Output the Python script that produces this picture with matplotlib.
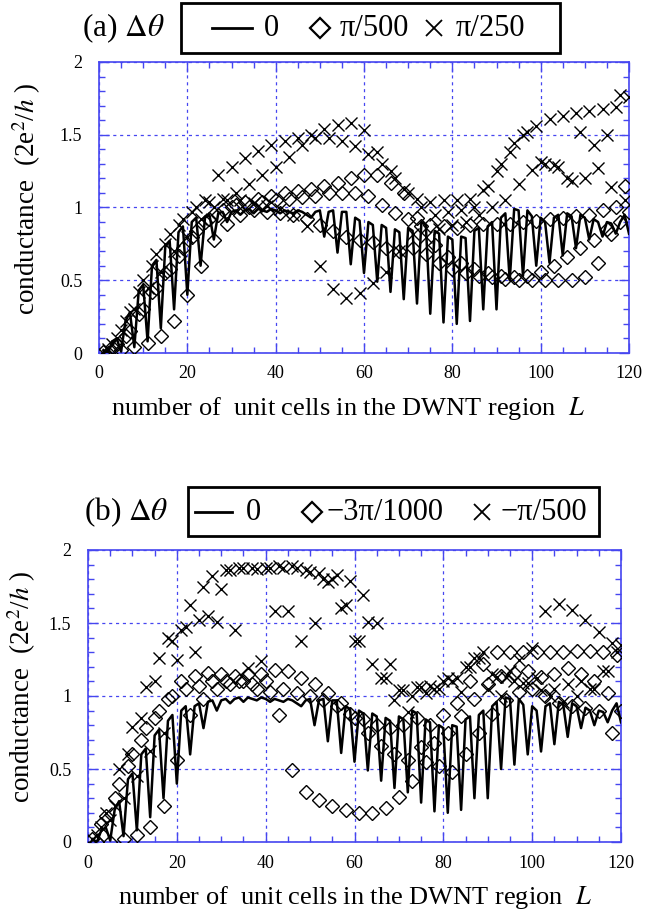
import matplotlib
matplotlib.use("Agg")
import matplotlib.pyplot as plt
from matplotlib.lines import Line2D
from matplotlib.patches import Rectangle
from matplotlib.ticker import MultipleLocator, FuncFormatter

# number of unit cells L
cells = list(range(1, 121))

# conductance for dtheta = 0 (same curve in both panels)
g_zero = [0.02, 0.0, 0.08, 0.1, 0.01, 0.22, 0.28, 0.04, 0.43, 0.47,
          0.08, 0.6, 0.64, 0.17, 0.73, 0.77, 0.3, 0.83, 0.87, 0.4,
          0.9, 0.93, 0.6, 0.93, 0.95, 0.78, 0.96, 0.97, 0.9, 0.97,
          0.98, 0.95, 0.98, 0.99, 0.96, 0.99, 0.98, 0.97, 0.99, 0.98,
          0.96, 0.98, 0.97, 0.96, 0.98, 0.97, 0.95, 0.93, 0.97, 0.98,
          0.8, 0.97, 0.98, 0.69, 0.97, 0.97, 0.61, 0.93, 0.91, 0.55,
          0.9, 0.88, 0.49, 0.88, 0.86, 0.42, 0.85, 0.83, 0.37, 0.86,
          0.84, 0.34, 0.9, 0.88, 0.27, 0.84, 0.82, 0.21, 0.8, 0.78,
          0.2, 0.8, 0.79, 0.22, 0.84, 0.86, 0.3, 0.87, 0.9, 0.3,
          0.93, 0.96, 0.5, 0.99, 0.98, 0.53, 0.98, 0.94, 0.6, 0.93,
          0.9, 0.62, 0.93, 0.95, 0.67, 0.96, 0.94, 0.72, 0.95, 0.93,
          0.78, 0.92, 0.9, 0.8, 0.9, 0.89, 0.82, 0.9, 0.95, 0.82]

# panel (a): dtheta = pi/500 (diamonds), pi/250 (crosses)
g_a_pi500 = [0.01, 0.0, 0.04, 0.06, 0.02, 0.12, 0.15, 0.04, 0.27, 0.3,
             0.07, 0.42, 0.45, 0.12, 0.55, 0.58, 0.22, 0.67, 0.72, 0.4,
             0.8, 0.84, 0.6, 0.9, 0.92, 0.78, 0.95, 0.98, 0.89, 1.0,
             1.02, 0.95, 1.04, 1.0, 0.98, 1.06, 1.04, 0.97, 1.08, 1.05,
             0.96, 1.1, 1.06, 0.95, 1.11, 1.07, 0.92, 1.13, 1.08, 0.88,
             1.15, 1.1, 0.84, 1.17, 1.1, 0.8, 1.2, 1.1, 0.78, 1.22,
             1.08, 0.76, 1.22, 1.02, 0.72, 1.17, 0.96, 0.7, 1.1, 0.92,
             0.72, 0.93, 0.87, 0.68, 0.88, 0.74, 0.62, 0.87, 0.66, 0.58,
             0.86, 0.62, 0.55, 0.88, 0.58, 0.53, 0.89, 0.55, 0.52, 0.89,
             0.53, 0.51, 0.89, 0.52, 0.5, 0.9, 0.53, 0.5, 0.91, 0.56,
             0.5, 0.92, 0.6, 0.5, 0.93, 0.66, 0.5, 0.94, 0.72, 0.52,
             0.95, 0.78, 0.62, 0.98, 0.85, 0.82, 1.0, 0.9, 1.15, 0.97]

g_a_pi250 = [0.0, 0.03, 0.06, 0.1, 0.16, 0.22, 0.28, 0.3, 0.42, 0.5,
             0.45, 0.6, 0.68, 0.56, 0.75, 0.82, 0.7, 0.88, 0.92, 0.8,
             0.97, 1.0, 0.92, 1.05, 1.04, 1.0, 1.22, 1.06, 1.05, 1.28,
             1.1, 1.05, 1.34, 1.16, 1.03, 1.39, 1.22, 1.01, 1.43, 1.28,
             0.99, 1.46, 1.35, 0.95, 1.48, 1.43, 0.87, 1.5, 1.48, 0.6,
             1.54, 1.48, 0.44, 1.57, 1.46, 0.38, 1.58, 1.42, 0.41, 1.53,
             1.37, 0.48, 1.38, 1.3, 0.56, 1.25, 1.2, 0.7, 1.13, 1.1,
             0.82, 1.06, 1.0, 0.8, 1.04, 0.95, 0.85, 1.05, 0.97, 0.88,
             1.05, 0.98, 0.9, 1.06, 1.0, 0.95, 1.12, 1.15, 1.0, 1.25,
             1.3, 1.05, 1.38, 1.44, 1.16, 1.5, 1.52, 1.26, 1.56, 1.31,
             1.3, 1.61, 1.29, 1.28, 1.63, 1.2, 1.18, 1.65, 1.52, 1.2,
             1.66, 1.43, 1.27, 1.68, 1.5, 1.14, 1.69, 1.77, 1.05, 1.76]

# panel (b): dtheta = -3pi/1000 (diamonds), -pi/500 (crosses)
g_b_3pi1000 = [0.02, 0.0, 0.12, 0.18, 0.0, 0.3, 0.4, 0.02, 0.52, 0.6,
               0.05, 0.7, 0.78, 0.1, 0.85, 0.9, 0.25, 0.98, 1.0, 0.56,
               1.1, 1.05, 0.87, 1.14, 1.07, 0.98, 1.16, 1.1, 1.05, 1.15,
               1.1, 1.08, 1.14, 1.1, 1.1, 1.15, 1.08, 1.05, 1.15, 1.1,
               1.03, 1.18, 0.87, 1.05, 1.17, 0.49, 1.02, 1.12, 0.34, 1.0,
               1.08, 0.29, 0.97, 1.02, 0.25, 0.93, 0.95, 0.22, 0.88, 0.85,
               0.2, 0.84, 0.75, 0.2, 0.8, 0.66, 0.23, 0.78, 0.6, 0.31,
               0.8, 0.56, 0.42, 0.85, 0.65, 0.55, 0.8, 0.68, 0.52, 0.87,
               0.75, 0.48, 0.95, 0.86, 0.6, 1.1, 0.98, 0.75, 1.22, 1.08,
               0.88, 1.3, 1.14, 0.97, 1.3, 1.16, 1.03, 1.3, 1.17, 1.05,
               1.3, 1.13, 1.0, 1.3, 1.15, 0.95, 1.3, 1.19, 0.93, 1.31,
               1.15, 0.92, 1.31, 1.1, 0.9, 1.3, 1.02, 0.75, 1.28, 0.9]

g_b_pi500 = [0.02, 0.05, 0.1, 0.2, 0.15, 0.25, 0.5, 0.3, 0.6, 0.79,
             0.45, 0.85, 1.06, 0.62, 1.1, 1.26, 0.75, 1.4, 1.38, 1.25,
             1.45, 1.47, 1.62, 1.3, 1.52, 1.75, 1.55, 1.82, 1.51, 1.73,
             1.86, 1.86, 1.45, 1.88, 1.88, 1.19, 1.88, 1.87, 1.24, 1.88,
             1.88, 1.58, 1.89, 1.88, 1.58, 1.89, 1.88, 1.38, 1.86, 1.85,
             1.5, 1.84, 1.8, 1.78, 1.8, 1.83, 1.6, 1.62, 1.79, 1.38,
             1.38, 1.69, 1.51, 1.22, 1.5, 1.12, 1.12, 1.22, 0.97, 1.04,
             1.04, 0.89, 1.0, 1.06, 1.06, 1.02, 1.07, 1.05, 1.05, 1.1,
             1.12, 1.1, 1.12, 1.03, 1.2, 1.2, 1.26, 1.26, 1.3, 1.05,
             1.15, 1.13, 1.0, 1.13, 1.17, 1.1, 1.25, 1.09, 1.09, 1.33,
             1.12, 1.04, 1.58, 1.0, 1.05, 1.63, 0.96, 1.08, 1.59, 1.0,
             1.1, 1.52, 1.05, 1.05, 1.44, 1.17, 1.17, 1.36, 1.3, 1.35]

W, H = 645, 914
BLUE = "#4646f0"

plt.rcParams["font.family"] = ["Liberation Serif", "DejaVu Serif"]
plt.rcParams["mathtext.fontset"] = "stix"


def px_rect(x0, y0, x1, y1):
    # pixel box (top-left origin) -> figure fraction rect
    return [x0 / W, 1 - y1 / H, (x1 - x0) / W, (y1 - y0) / H]


def style_axes(ax, xlab_x, ylab_x):
    ax.set_xlim(0, 120)
    ax.set_ylim(0, 2)
    ax.xaxis.set_major_locator(MultipleLocator(20))
    ax.xaxis.set_minor_locator(MultipleLocator(5))
    ax.yaxis.set_major_locator(MultipleLocator(0.5))
    ax.yaxis.set_minor_locator(MultipleLocator(0.1))
    ax.yaxis.set_major_formatter(FuncFormatter(lambda v, p: f"{v:g}"))
    ax.tick_params(which="both", direction="in", top=True, right=True,
                   color=BLUE, labelsize=13)
    ax.tick_params(which="major", length=7, width=1)
    ax.tick_params(which="minor", length=4.5, width=1)
    ax.tick_params(axis="x", pad=9)
    ax.tick_params(axis="y", pad=12)
    for s in ax.spines.values():
        s.set_color(BLUE)
        s.set_linewidth(1.2)
    ax.grid(True, which="major", color=BLUE, linestyle=(0, (2.5, 3)),
            linewidth=0.9)
    ax.set_axisbelow(True)
    ax.set_xlabel("number of  unit cells in the DWNT region  $L$",
                  fontsize=19, va="center")
    ax.xaxis.set_label_coords(xlab_x, -55 / 291)
    ax.set_ylabel("conductance  (2e$^2$/$h$ )", fontsize=19.5, va="center")
    ax.yaxis.set_label_coords(ylab_x, 0.53)


def draw_series(ax, dia, crs):
    ax.plot(cells, g_zero, color="black", lw=1.8, zorder=3)
    ax.plot(cells, dia, linestyle="none", marker="D", ms=7, mfc="none",
            mec="black", mew=1.0, zorder=4)
    ax.plot(cells, crs, linestyle="none", marker="x", ms=8.5, mec="black",
            mew=1.0, zorder=4)


def draw_key(fig, tag, tag_x, box, yc, line_x, dia_x, dia_lab, crs_x, crs_lab):
    x0, y0, x1, y1 = box
    fig.add_artist(Rectangle((x0 / W, 1 - y1 / H), (x1 - x0) / W,
                             (y1 - y0) / H, transform=fig.transFigure,
                             fill=False, ec="black", lw=2))
    fy = 1 - yc / H
    fig.text(tag_x / W, fy, tag, fontsize=22.5, va="center", ha="left")
    fig.add_artist(Line2D([line_x[0] / W, line_x[1] / W], [fy, fy],
                          transform=fig.transFigure, color="black", lw=2))
    fig.text(line_x[2] / W, fy, "0", fontsize=22, va="center", ha="left")
    fig.add_artist(Line2D([dia_x[0] / W], [fy], transform=fig.transFigure,
                          marker="D", ms=10.5, mfc="none", mec="black", mew=1.6))
    fig.text(dia_x[1] / W, fy, dia_lab, fontsize=22, va="center", ha="left")
    fig.add_artist(Line2D([crs_x[0] / W], [fy], transform=fig.transFigure,
                          marker="x", ms=11, mec="black", mew=1.3))
    fig.text(crs_x[1] / W, fy, crs_lab, fontsize=22, va="center", ha="left")


fig = plt.figure(figsize=(W / 100, H / 100), dpi=100)

ax_a = fig.add_axes(px_rect(99, 62, 629, 353))
style_axes(ax_a, 0.47, -0.136)
draw_series(ax_a, g_a_pi500, g_a_pi250)

ax_b = fig.add_axes(px_rect(88, 550, 621, 842))
style_axes(ax_b, 0.5, -0.124)
draw_series(ax_b, g_b_3pi1000, g_b_pi500)

draw_key(fig, r"(a) $\Delta\theta$", 82, (181, 3, 560, 53), 28,
         (212, 252, 264), (320, 340), "π/500", (434, 456), "π/250")
draw_key(fig, r"(b) $\Delta\theta$", 84, (188, 487, 599, 536), 512,
         (195, 232, 246), (312, 326), "−3π/1000", (482, 500), "−π/500")

fig.savefig("out.png", dpi=100)
